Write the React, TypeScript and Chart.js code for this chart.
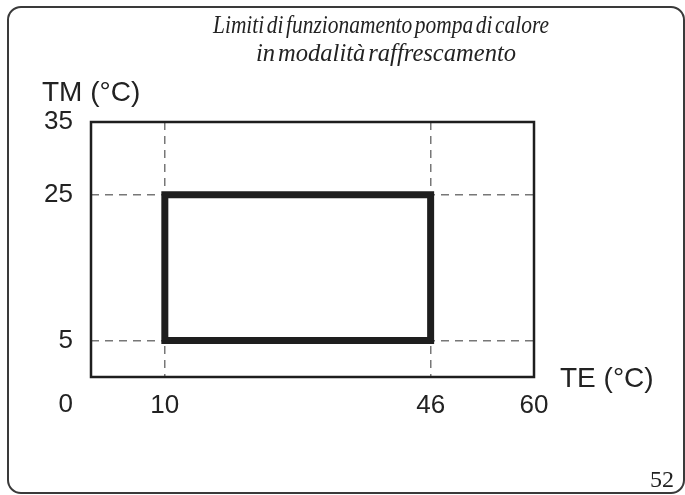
import React, { useEffect, useRef } from "react";
import { Chart, registerables } from "chart.js";

Chart.register(...registerables);

const titleLines = ["Limiti di funzionamento pompa di calore", "in modalità raffrescamento"];
const yAxisTitle = "TM (°C)";
const xAxisTitle = "TE (°C)";
const pageNumber = "52";
const originLabel = "0";

const xTicks = [10, 46, 60];
const yTicks = [5, 25, 35];
const xRange = [0, 60];
const yRange = [0, 35];

const teLimits = [10, 46];
const tmLimits = [5, 25];

const SANS = '"Liberation Sans", Arial, sans-serif';
const SERIF = '"Liberation Serif", "Times New Roman", serif';

function drawTight(ctx: CanvasRenderingContext2D, text: string, left: number, y: number, targetWidth: number, gap: number) {
  const words = text.split(" ");
  const widths = words.map((w) => ctx.measureText(w).width);
  const total = widths.reduce((a, b) => a + b, 0) + gap * (words.length - 1);
  const k = Math.min(1, targetWidth / total);
  ctx.save();
  ctx.translate(left, y);
  ctx.scale(k, 1);
  let x = 0;
  words.forEach((w, i) => {
    ctx.fillText(w, x, 0);
    x += widths[i] + gap;
  });
  ctx.restore();
}

const decorPlugin = {
  id: "decor",
  beforeDraw(chart: any) {
    const ctx = chart.ctx;
    ctx.save();
    ctx.fillStyle = "#ffffff";
    ctx.fillRect(0, 0, chart.width, chart.height);
    // rounded page frame
    const x = 8, y = 7, w = 676, h = 486, r = 13;
    ctx.beginPath();
    ctx.moveTo(x + r, y);
    ctx.lineTo(x + w - r, y);
    ctx.arcTo(x + w, y, x + w, y + r, r);
    ctx.lineTo(x + w, y + h - r);
    ctx.arcTo(x + w, y + h, x + w - r, y + h, r);
    ctx.lineTo(x + r, y + h);
    ctx.arcTo(x, y + h, x, y + h - r, r);
    ctx.lineTo(x, y + r);
    ctx.arcTo(x, y, x + r, y, r);
    ctx.closePath();
    ctx.strokeStyle = "#3a3a3a";
    ctx.lineWidth = 2;
    ctx.stroke();
    ctx.restore();
  },
  afterDatasetsDraw(chart: any) {
    const ctx = chart.ctx;
    const a = chart.chartArea;
    ctx.save();
    // axis box
    ctx.strokeStyle = "#1e1e1e";
    ctx.lineWidth = 2.5;
    ctx.strokeRect(a.left, a.top, a.right - a.left, a.bottom - a.top);

    // title
    ctx.fillStyle = "#222";
    ctx.font = `italic 25px ${SERIF}`;
    ctx.textAlign = "left";
    ctx.textBaseline = "alphabetic";
    drawTight(ctx, titleLines[0], 213, 33, 336, 3);
    drawTight(ctx, titleLines[1], 256, 61, 260, 3);

    // axis titles
    ctx.font = `28px ${SANS}`;
    ctx.textAlign = "left";
    ctx.fillText(yAxisTitle, 42, 101);
    ctx.fillText(xAxisTitle, a.right + 26, 387);

    // origin label
    ctx.font = `26px ${SANS}`;
    ctx.textAlign = "right";
    ctx.fillText(originLabel, a.left - 18, 412);

    // page number
    ctx.font = `24px ${SERIF}`;
    ctx.textAlign = "right";
    ctx.fillText(pageNumber, 674, 487);
    ctx.restore();
  },
};

export default function App() {
  const ref = useRef<HTMLCanvasElement | null>(null);

  useEffect(() => {
    document.body.style.margin = "0";
    const canvas = ref.current;
    if (!canvas) return;

    const rect = [
      { x: teLimits[0], y: tmLimits[0] },
      { x: teLimits[0], y: tmLimits[1] },
      { x: teLimits[1], y: tmLimits[1] },
      { x: teLimits[1], y: tmLimits[0] },
      { x: teLimits[0], y: tmLimits[0] },
    ];

    const chart = new Chart(canvas, {
      type: "line",
      data: {
        datasets: [
          {
            data: rect,
            borderColor: "#1e1e1e",
            borderWidth: 7,
            pointRadius: 0,
            fill: false,
            tension: 0,
            borderCapStyle: "square",
            borderJoinStyle: "miter",
          } as any,
        ],
      },
      options: {
        responsive: false,
        animation: false,
        devicePixelRatio: 1,
        layout: { padding: { left: 0, top: 122, right: 151, bottom: 0 } },
        plugins: {
          legend: { display: false },
          tooltip: { enabled: false },
          title: { display: false },
        },
        scales: {
          x: {
            type: "linear",
            min: xRange[0],
            max: xRange[1],
            afterBuildTicks: (s: any) => {
              s.ticks = xTicks.map((v) => ({ value: v }));
            },
            afterFit: (s: any) => {
              s.height = 118;
            },
            grid: {
              color: "#777",
              lineWidth: 1.5,
              drawTicks: false,
            },
            border: { display: false, dash: [8, 6] },
            ticks: {
              color: "#222",
              font: { family: SANS, size: 26 },
              padding: 13,
              maxRotation: 0,
              autoSkip: false,
            },
          },
          y: {
            type: "linear",
            min: yRange[0],
            max: yRange[1],
            afterBuildTicks: (s: any) => {
              s.ticks = yTicks.map((v) => ({ value: v }));
            },
            afterFit: (s: any) => {
              s.width = 91;
            },
            grid: {
              color: "#777",
              lineWidth: 1.5,
              drawTicks: false,
            },
            border: { display: false, dash: [8, 6] },
            ticks: {
              color: "#222",
              font: { family: SANS, size: 26 },
              padding: 18,
              autoSkip: false,
            },
          },
        },
      },
      plugins: [decorPlugin],
    });
    return () => chart.destroy();
  }, []);

  return <canvas ref={ref} width={685} height={495} style={{ display: "block" }} />;
}
